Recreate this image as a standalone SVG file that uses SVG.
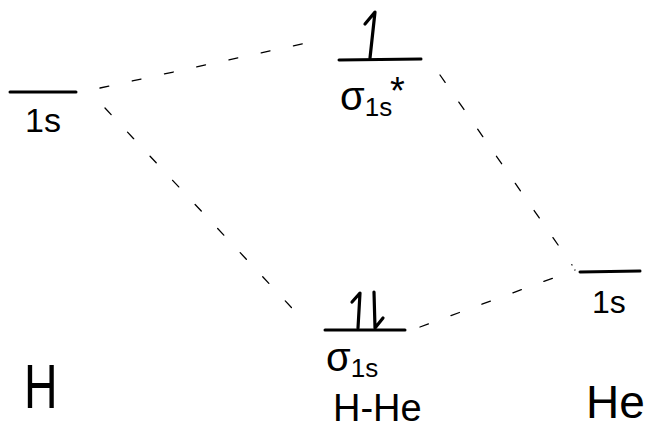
<svg xmlns="http://www.w3.org/2000/svg" width="650" height="430" viewBox="0 0 650 430">
<style>
.lvl{stroke:#000;stroke-width:3;stroke-linecap:round;fill:none}
.dash{stroke:#000;stroke-width:1.3;stroke-dasharray:9 24;fill:none;stroke-linecap:round}
.e{stroke:#000;stroke-width:3.2;fill:none;stroke-linecap:round;stroke-linejoin:round}
.t{font-family:"Liberation Sans","DejaVu Sans",sans-serif;fill:#000}
</style>
<rect width="650" height="430" fill="#fff"/>
<g id="connectors">
<path class="dash" d="M100 88 L320 40"/>
<path class="dash" d="M105 108 L305 322"/>
<path class="dash" d="M440 75 L572 265"/>
<path class="dash" d="M420 327 L575 270"/>
</g>
<g id="H-1s">
<path class="lvl" d="M10 92 L76 92"/>
<text class="t" x="25" y="132" font-size="34">1s</text>
</g>
<g id="sigma-star">
<path class="lvl" d="M339 60 L421 59"/>
<path class="e" d="M370 58 L375 12 L365 24"/>
<text class="t" x="340" y="110" font-size="40">σ<tspan font-size="26" dy="6">1s</tspan></text>
<text class="t" x="390" y="104" font-size="38">*</text>
</g>
<g id="sigma">
<path class="lvl" d="M325 330 L405 330"/>
<path class="e" d="M358 328 L360 293 L352 302"/>
<path class="e" d="M374 292 L375 328 L383 318"/>
<text class="t" x="326" y="371" font-size="40">σ<tspan font-size="26" dy="6">1s</tspan></text>
<text class="t" x="333" y="421" font-size="38">H-He</text>
</g>
<g id="He-1s">
<path class="lvl" d="M580 272 L640 271"/>
<text class="t" x="592" y="313" font-size="32">1s</text>
</g>
<g id="H">
<text class="t" transform="translate(24,408) scale(0.75,1)" font-size="62">H</text>
</g>
<g id="He">
<text class="t" x="586" y="418" font-size="46">He</text>
</g>
</svg>
